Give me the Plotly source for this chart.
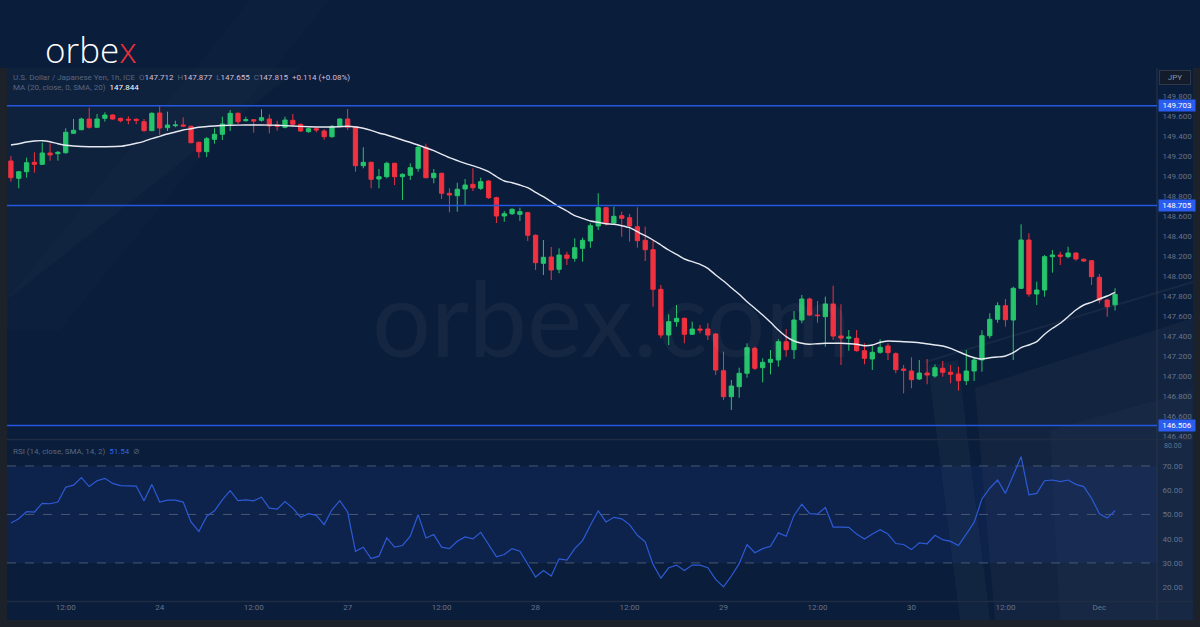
import plotly.graph_objects as go

# ---------------- data ----------------
OPEN = [149.150, 148.977, 149.043, 149.137, 149.117, 149.230, 149.223, 149.233, 149.427, 149.463,
        149.570, 149.487, 149.577, 149.610, 149.577, 149.567, 149.567, 149.543, 149.453, 149.630,
        149.483, 149.503, 149.510, 149.497, 149.337, 149.243, 149.367, 149.417, 149.520, 149.627,
        149.553, 149.563, 149.557, 149.570, 149.507, 149.487, 149.557, 149.517, 149.443, 149.473,
        149.450, 149.393, 149.497, 149.570, 149.493, 149.103, 149.137, 148.970, 148.993, 149.127,
        148.993, 149.007, 149.077, 149.287, 148.983, 149.027, 148.827, 148.803, 148.870, 148.917,
        148.877, 148.950, 148.783, 148.600, 148.623, 148.617, 148.633, 148.407, 148.127, 148.190,
        148.067, 148.210, 148.177, 148.277, 148.350, 148.500, 148.683, 148.530, 148.603, 148.583,
        148.493, 148.357, 148.263, 147.867, 147.410, 147.543, 147.577, 147.417, 147.470, 147.470,
        147.420, 147.053, 146.793, 146.893, 147.027, 147.277, 147.083, 147.137, 147.160, 147.343,
        147.263, 147.560, 147.770, 147.610, 147.593, 147.720, 147.400, 147.377, 147.377, 147.253,
        147.170, 147.237, 147.300, 147.223, 147.070, 147.050, 146.970, 147.030, 147.000, 147.077,
        147.037, 147.020, 146.953, 147.050, 147.160, 147.403, 147.567, 147.703, 147.560, 147.877,
        148.360, 147.820, 147.860, 148.193, 148.210, 148.193, 148.230, 148.167, 148.153, 147.987,
        147.760, 147.712]
HIGH = [149.200, 149.050, 149.183, 149.237, 149.333, 149.327, 149.250, 149.477, 149.570, 149.583,
        149.683, 149.620, 149.637, 149.617, 149.583, 149.597, 149.577, 149.570, 149.637, 149.710,
        149.643, 149.553, 149.587, 149.503, 149.343, 149.390, 149.477, 149.593, 149.660, 149.637,
        149.593, 149.570, 149.667, 149.617, 149.553, 149.593, 149.620, 149.523, 149.480, 149.487,
        149.467, 149.510, 149.577, 149.670, 149.500, 149.287, 149.143, 149.070, 149.143, 149.133,
        149.027, 149.127, 149.310, 149.323, 149.070, 149.033, 148.877, 148.933, 148.970, 149.077,
        148.983, 148.957, 148.793, 148.650, 148.677, 148.683, 148.643, 148.417, 148.360, 148.290,
        148.277, 148.243, 148.377, 148.383, 148.527, 148.827, 148.693, 148.693, 148.643, 148.620,
        148.687, 148.493, 148.360, 147.910, 147.617, 147.710, 147.583, 147.543, 147.510, 147.527,
        147.427, 147.243, 146.960, 147.083, 147.327, 147.293, 147.177, 147.260, 147.367, 147.470,
        147.650, 147.810, 147.783, 147.750, 147.793, 147.903, 147.717, 147.460, 147.460, 147.327,
        147.303, 147.367, 147.327, 147.237, 147.110, 147.187, 147.160, 147.170, 147.117, 147.150,
        147.110, 147.093, 147.260, 147.193, 147.457, 147.627, 147.737, 147.770, 147.893, 148.517,
        148.427, 147.943, 148.210, 148.260, 148.243, 148.293, 148.237, 148.177, 148.160, 148.020,
        147.770, 147.877]
LOW = [148.943, 148.877, 148.983, 149.033, 149.110, 149.153, 149.153, 149.223, 149.420, 149.457,
       149.473, 149.480, 149.543, 149.563, 149.537, 149.517, 149.517, 149.443, 149.450, 149.410,
       149.450, 149.487, 149.493, 149.327, 149.183, 149.190, 149.323, 149.360, 149.450, 149.517,
       149.543, 149.433, 149.543, 149.427, 149.453, 149.477, 149.503, 149.440, 149.433, 149.437,
       149.363, 149.383, 149.490, 149.460, 149.043, 149.077, 148.877, 148.877, 148.977, 148.910,
       148.760, 148.960, 149.043, 148.977, 148.927, 148.770, 148.637, 148.643, 148.700, 148.850,
       148.860, 148.770, 148.530, 148.543, 148.610, 148.550, 148.350, 148.060, 148.010, 147.960,
       148.027, 148.110, 148.143, 148.143, 148.283, 148.460, 148.503, 148.517, 148.393, 148.343,
       148.283, 148.150, 147.693, 147.377, 147.310, 147.493, 147.327, 147.410, 147.427, 147.360,
       147.010, 146.760, 146.660, 146.783, 146.983, 147.060, 146.937, 147.017, 147.093, 147.193,
       147.170, 147.527, 147.603, 147.533, 147.293, 147.360, 147.110, 147.253, 147.243, 147.117,
       147.060, 147.223, 147.160, 147.027, 146.827, 146.877, 146.960, 146.917, 146.983, 146.993,
       146.927, 146.853, 146.910, 146.950, 147.043, 147.377, 147.533, 147.493, 147.160, 147.870,
       147.793, 147.710, 147.793, 148.033, 148.110, 148.177, 148.153, 148.140, 147.910, 147.727,
       147.593, 147.655]
CLOSE = [148.983, 149.043, 149.133, 149.117, 149.230, 149.210, 149.237, 149.437, 149.457, 149.570,
         149.487, 149.570, 149.610, 149.570, 149.553, 149.560, 149.557, 149.453, 149.627, 149.480,
         149.510, 149.510, 149.500, 149.333, 149.243, 149.373, 149.417, 149.520, 149.627, 149.543,
         149.563, 149.550, 149.583, 149.500, 149.497, 149.560, 149.517, 149.450, 149.473, 149.460,
         149.393, 149.497, 149.570, 149.487, 149.103, 149.137, 148.967, 148.993, 149.127, 148.993,
         149.017, 149.083, 149.287, 148.983, 149.027, 148.827, 148.810, 148.867, 148.910, 148.883,
         148.943, 148.783, 148.600, 148.623, 148.667, 148.643, 148.407, 148.133, 148.187, 148.060,
         148.210, 148.177, 148.283, 148.357, 148.503, 148.683, 148.533, 148.597, 148.577, 148.500,
         148.353, 148.263, 147.867, 147.410, 147.543, 147.577, 147.417, 147.470, 147.460, 147.410,
         147.060, 146.793, 146.900, 147.027, 147.283, 147.077, 147.137, 147.167, 147.343, 147.263,
         147.560, 147.770, 147.610, 147.603, 147.720, 147.400, 147.380, 147.390, 147.253, 147.177,
         147.237, 147.287, 147.233, 147.063, 147.057, 146.963, 147.030, 147.010, 147.083, 147.037,
         147.017, 146.953, 147.050, 147.160, 147.403, 147.567, 147.703, 147.563, 147.877, 148.360,
         147.820, 147.860, 148.193, 148.210, 148.197, 148.230, 148.170, 148.150, 147.993, 147.760,
         147.693, 147.815]

MA_IDX = [0, 1, 2, 3, 4, 5, 6, 7, 8, 10, 12, 14, 15, 16, 17, 18, 19, 20, 21, 22, 23, 24, 26, 28, 30,
          32, 34, 36, 38, 40, 42, 43, 44, 45, 46, 47, 48, 50, 52, 54, 56, 58, 60, 61, 62, 63, 64, 65,
          66, 67, 68, 69, 70, 71, 72, 73, 74, 75, 76, 77, 78, 79, 80, 81, 82, 83, 84, 85, 86, 87, 88,
          89, 90, 91, 92, 93, 94, 95, 96, 97, 98, 99, 100, 101, 102, 103, 104, 106, 108, 109, 110,
          111, 112, 114, 116, 118, 119, 120, 121, 122, 123, 124, 125, 126, 127, 128, 129, 130, 131,
          132, 133, 134, 135, 136, 137, 138, 139, 140, 141]
MA_VAL = [149.310, 149.323, 149.340, 149.350, 149.353, 149.343, 149.323, 149.307, 149.300, 149.293,
          149.293, 149.297, 149.310, 149.327, 149.347, 149.373, 149.397, 149.420, 149.440, 149.460,
          149.473, 149.487, 149.500, 149.507, 149.510, 149.510, 149.507, 149.500, 149.493, 149.490,
          149.493, 149.497, 149.490, 149.477, 149.457, 149.430, 149.410, 149.360, 149.310, 149.253,
          149.183, 149.127, 149.077, 149.043, 148.993, 148.950, 148.933, 148.910, 148.883, 148.837,
          148.793, 148.743, 148.693, 148.650, 148.603, 148.577, 148.550, 148.537, 148.523, 148.517,
          148.503, 148.483, 148.443, 148.403, 148.360, 148.310, 148.260, 148.217, 148.170, 148.143,
          148.117, 148.077, 148.010, 147.950, 147.883, 147.817, 147.743, 147.677, 147.610, 147.537,
          147.460, 147.393, 147.350, 147.327, 147.317, 147.323, 147.327, 147.327, 147.317, 147.303,
          147.310, 147.337, 147.350, 147.343, 147.333, 147.310, 147.300, 147.277, 147.243, 147.210,
          147.183, 147.170, 147.183, 147.190, 147.200, 147.233, 147.283, 147.310, 147.343, 147.417,
          147.477, 147.527, 147.593, 147.660, 147.710, 147.737, 147.770, 147.800, 147.837]

RSI_VAL = [46.5, 48.2, 51.2, 51.0, 54.6, 54.4, 55.1, 61.2, 62.1, 65.2, 61.5, 63.9, 64.9, 62.8, 61.9,
           61.9, 61.7, 55.6, 62.4, 55.1, 55.9, 55.9, 55.1, 46.9,
           43.0, 49.2, 51.5, 56.0, 59.8, 55.7, 56.0, 55.6, 57.1, 52.6, 52.2, 55.3, 52.6, 48.8, 50.3,
           49.6, 45.8, 51.9, 55.7, 51.0, 34.8, 36.5, 31.8, 32.8,
           40.3, 36.5, 37.2, 41.0, 49.9, 40.3, 41.7, 36.5, 35.9, 38.9, 40.7, 39.9, 42.6, 37.6, 32.5,
           33.5, 35.9, 34.8, 29.4, 24.2, 26.9, 24.6, 31.7,
           31.2, 35.9, 39.2, 45.5, 51.5, 46.9, 48.8, 48.2, 45.8, 41.4, 38.7, 29.4, 23.7, 28.0, 29.1,
           26.9, 29.1, 29.1, 28.0, 23.2, 20.1, 24.6, 29.7, 37.6,
           34.2, 35.9, 36.9, 42.4, 41.0, 49.6, 54.2, 50.3, 50.1, 52.9, 44.8, 44.8, 44.7, 41.9, 39.9,
           41.9, 43.7, 41.9, 38.0, 37.6, 35.5, 38.3, 37.9, 41.4,
           39.6, 38.9, 37.2, 41.9, 46.7, 56.4, 60.8, 64.2, 58.7, 66.2, 73.8, 58.1, 58.7, 63.9, 64.2,
           63.5, 64.2, 62.4, 61.5, 56.7, 50.3, 48.5, 51.54]

LEVELS = [149.703, 148.705, 146.506]
TICK_POS = [7, 19, 31, 43, 55, 67, 79, 91, 103, 115, 127, 139]
TICK_TEXT = ["12:00", "24", "12:00", "27", "12:00", "28", "12:00", "29", "12:00", "30", "12:00", "Dec"]
PRICE_TICKS = [146.4, 146.6, 146.8, 147.0, 147.2, 147.4, 147.6, 147.8, 148.0, 148.2, 148.4, 148.6,
               148.8, 149.0, 149.2, 149.4, 149.6, 149.8]
RSI_TICKS = [20, 30, 40, 50, 60, 70]
RSI_TOP_LABEL = "80.00"

# ---------------- layout helpers ----------------
W, H = 1200, 627
ML, MR, MT, MB = 7, 45, 68, 26
PW, PH = W - ML - MR, H - MT - MB


def px(x):
    return (x - ML) / PW


def py(y):
    return (H - MB - y) / PH


BG = "#0a1d3a"
DARK = "#1d2129"
AX_COL = "#66738a"
GREEN = "#26c46c"
RED = "#f0313f"
BLUE = "#2458e0"

idx = list(range(len(OPEN)))

fig = go.Figure()
fig.add_trace(go.Candlestick(
    x=idx, open=OPEN, high=HIGH, low=LOW, close=CLOSE,
    increasing=dict(line=dict(color=GREEN, width=1), fillcolor=GREEN),
    decreasing=dict(line=dict(color=RED, width=1), fillcolor=RED),
    whiskerwidth=0, xaxis="x", yaxis="y", hoverinfo="skip",
))
fig.add_trace(go.Scatter(
    x=MA_IDX, y=MA_VAL, mode="lines", xaxis="x", yaxis="y",
    line=dict(color="#e6e9f0", width=1.4, shape="spline", smoothing=0.6), hoverinfo="skip",
))
fig.add_trace(go.Scatter(
    x=idx, y=RSI_VAL, mode="lines", xaxis="x", yaxis="y2",
    line=dict(color="#2d5ad6", width=1.2), hoverinfo="skip",
))

shapes = []


def poly(points, color):
    d = "M " + " L ".join(f"{px(a):.5f},{py(b):.5f}" for a, b in points) + " Z"
    shapes.append(dict(type="path", path=d, xref="paper", yref="paper",
                       fillcolor=color, line=dict(width=0), layer="below"))


# decorative background streaks
poly([(7, 68), (300, 68), (7, 300)], "rgba(255,255,255,0.018)")
poly([(250, 0), (330, 0), (60, 330), (7, 330), (7, 300)], "rgba(255,255,255,0.012)")
poly([(975, 388), (1193, 318), (1193, 620), (995, 620)], "rgba(255,255,255,0.035)")
poly([(928, 366), (958, 360), (990, 620), (960, 620)], "rgba(255,255,255,0.03)")
poly([(1050, 430), (1193, 390), (1193, 620), (1060, 620)], "rgba(255,255,255,0.02)")
shapes.append(dict(type="line", xref="paper", yref="paper", x0=px(925), y0=py(362), x1=px(1193),
                   y1=py(282), line=dict(color="rgba(255,255,255,0.05)", width=2), layer="below"))

# frame strips
for (x0, y0, x1, y1) in [(0, 68, 7, 627), (1193, 68, 1200, 627), (0, 620, 1200, 627)]:
    shapes.append(dict(type="rect", xref="paper", yref="paper", x0=px(x0), x1=px(x1),
                       y0=py(y1), y1=py(y0), fillcolor=DARK, line=dict(width=0), layer="above"))

# separators
shapes.append(dict(type="line", xref="paper", yref="paper", x0=px(1157), x1=px(1157),
                   y0=py(620), y1=py(68), line=dict(color="#2a3449", width=1)))
for yy in (439.5, 601.5):
    shapes.append(dict(type="line", xref="paper", yref="paper", x0=px(7), x1=px(1193),
                       y0=py(yy), y1=py(yy), line=dict(color="#1f2c44", width=1.5)))

# RSI band and guides
shapes.append(dict(type="rect", xref="paper", yref="y2", x0=0, x1=px(1157), y0=30, y1=70,
                   fillcolor="rgba(40,70,170,0.16)", line=dict(width=0), layer="below"))
for lv in (70, 50, 30):
    shapes.append(dict(type="line", xref="paper", yref="y2", x0=0, x1=px(1157), y0=lv, y1=lv,
                       line=dict(color="#4a5773", width=1, dash="dash"), layer="below"))

# horizontal levels
for lv in LEVELS:
    shapes.append(dict(type="line", xref="paper", yref="y", x0=0, x1=px(1157), y0=lv, y1=lv,
                       line=dict(color=BLUE, width=1.5)))

annotations = []
# logo
annotations.append(dict(
    text="orbe<span style='color:#ee2f3b'>x</span>", xref="paper", yref="paper",
    x=px(43), y=py(50), xanchor="left", yanchor="middle", showarrow=False,
    font=dict(family="Open Sans", size=35, color="#ffffff", weight=300)))
# header
annotations.append(dict(
    text=("U.S. Dollar / Japanese Yen, 1h, ICE  O<span style='color:#d6bfd6'>147.712</span>"
          "  H<span style='color:#d6bfd6'>147.877</span>  L<span style='color:#d6bfd6'>147.655</span>"
          "  C<span style='color:#d6bfd6'>147.815</span>  <span style='color:#d6bfd6'>+0.114 (+0.08%)</span>"),
    xref="paper", yref="paper", x=px(11), y=py(77), xanchor="left", yanchor="middle",
    showarrow=False, font=dict(family="Roboto", size=8, color="#5b677d")))
annotations.append(dict(
    text="MA (20, close, 0, SMA, 20)  <span style='color:#ffffff'>147.844</span>",
    xref="paper", yref="paper", x=px(11), y=py(88), xanchor="left", yanchor="middle",
    showarrow=False, font=dict(family="Roboto", size=8, color="#5b677d")))
annotations.append(dict(
    text="RSI (14, close, SMA, 14, 2)  <span style='color:#2f62f0'>51.54</span>  ⊘",
    xref="paper", yref="paper", x=px(11), y=py(451), xanchor="left", yanchor="middle",
    showarrow=False, font=dict(family="Roboto", size=8, color="#5b677d")))
# RSI top label (sits just under the price pane's last label)
annotations.append(dict(
    text=RSI_TOP_LABEL, xref="paper", yref="paper", x=px(1162), y=py(446), xanchor="left",
    yanchor="middle", showarrow=False, font=dict(family="Roboto", size=7, color=AX_COL)))
# watermark
annotations.append(dict(
    text="orbex.com", xref="paper", yref="paper", x=px(612), y=py(316),
    xanchor="center", yanchor="middle", showarrow=False,
    font=dict(family="Lato", size=104, color="rgba(255,255,255,0.045)")))
# JPY box
annotations.append(dict(
    text="JPY", xref="paper", yref="paper", x=px(1175), y=py(78), xanchor="center",
    yanchor="middle", showarrow=False, bgcolor="#141c2b", bordercolor="#2f3848", borderwidth=1,
    borderpad=2, width=26, font=dict(family="Roboto", size=8, color="#8a94a6")))
# level labels
for lv in LEVELS:
    annotations.append(dict(
        text=f"{lv:.3f}", xref="paper", yref="y", x=px(1158), y=lv, xanchor="left",
        yanchor="middle", showarrow=False, bgcolor="#2a5cf0", borderpad=1, width=34,
        font=dict(family="Roboto", size=8, color="#ffffff")))

fig.update_layout(
    width=W, height=H, margin=dict(l=ML, r=MR, t=MT, b=MB),
    paper_bgcolor=BG, plot_bgcolor="rgba(0,0,0,0)", showlegend=False,
    boxgap=0.22,
    xaxis=dict(domain=[0, 1], anchor="y2", range=[-0.5, 146.1], tickvals=TICK_POS,
               ticktext=TICK_TEXT, showgrid=False, zeroline=False, showline=False, ticks="",
               tickfont=dict(family="Roboto", size=8, color=AX_COL),
               rangeslider=dict(visible=False)),
    yaxis=dict(domain=[py(438), 1], anchor="x", side="right", range=[146.38, 150.08],
               tickvals=PRICE_TICKS, tickformat=".3f", showgrid=False, zeroline=False,
               ticks="outside", ticklen=5, tickcolor="rgba(0,0,0,0)",
               tickfont=dict(family="Roboto", size=8, color=AX_COL)),
    yaxis2=dict(domain=[0, py(440)], anchor="x", side="right", range=[14.3, 80.7],
                tickvals=RSI_TICKS, tickformat=".2f", showgrid=False, zeroline=False,
                ticks="outside", ticklen=5, tickcolor="rgba(0,0,0,0)",
                tickfont=dict(family="Roboto", size=8, color=AX_COL)),
    shapes=shapes, annotations=annotations,
)

fig.write_html("out.html", config={"displayModeBar": False},
               post_script="document.body.style.margin='0';")
